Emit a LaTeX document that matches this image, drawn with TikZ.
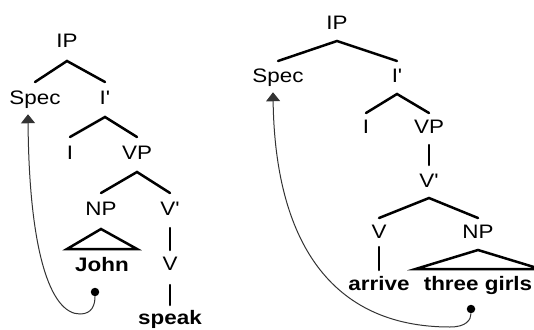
\documentclass[tikz,border=0pt]{standalone}
\usepackage{fontspec}
\newfontfamily\lab{Liberation Sans}[FakeStretch=1.15]
\usetikzlibrary{arrows.meta}
\begin{document}
\begin{tikzpicture}[x=1pt,y=-1pt,
  cat/.style={font=\lab\fontsize{19.5}{21}\selectfont,inner sep=0pt,anchor=base},
  word/.style={cat,font=\lab\fontsize{19.5}{21}\selectfont\bfseries},
  branch/.style={line width=2.5pt,line cap=round},
  move/.style={line width=1pt,black!80,-{Triangle[width=14pt,length=9pt]}},
  dotnode/.style={circle,fill=black,inner sep=0pt,minimum size=8.5pt}]
\useasboundingbox (0,0) rectangle (534,329);

% ---------- left tree: "John speak" ----------
\node[cat] (ipL)   at (67,47)   {IP};
\node[cat] (specL) at (35,104)  {Spec};
\node[cat] (ibarL) at (105,104) {I'};
\node[cat] (iL)    at (70,159)  {I};
\node[cat] (vpL)   at (137,159) {VP};
\node[cat] (npL)   at (101,215) {NP};
\node[cat] (vbarL) at (170,215) {V'};
\node[word] (johnL) at (102,271) {John};
\node[cat] (vL)    at (170,270) {V};
\node[word] (speakL) at (170,324) {speak};
\node[dotnode] (dotL) at (95,292) {};

\draw[branch] ([yshift=22pt]specL.base) -- ([yshift=-14pt]ipL.base) -- ([yshift=22pt]ibarL.base);
\draw[branch] ([yshift=22pt]iL.base) -- ([yshift=-13pt]ibarL.base) -- ([yshift=22pt]vpL.base);
\draw[branch] ([yshift=22pt]npL.base) -- ([yshift=-13pt]vpL.base) -- ([yshift=22pt]vbarL.base);
\draw[branch] ([yshift=-13pt]vbarL.base) -- ([yshift=20pt]vL.base);
\draw[branch] ([yshift=-15pt]vL.base) -- ([yshift=19pt]speakL.base);
\draw[branch,line join=miter] ([yshift=-14pt]npL.base)
  -- ([xshift=-8pt,yshift=22pt]johnL.base west)
  -- ([xshift=8pt,yshift=22pt]johnL.base east) -- cycle;

\draw[move] (dotL) .. controls (95,305) and (92,314) .. (80,314)
  .. controls (50,314) and (29,250) .. ([xshift=-7pt,yshift=-6pt]specL.south);

% ---------- right tree: "arrive three girls" ----------
\node[cat] (ipR)   at (337,30)  {IP};
\node[cat] (specR) at (278,82)  {Spec};
\node[cat] (ibarR) at (397,82)  {I'};
\node[cat] (iR)    at (366,133) {I};
\node[cat] (vpR)   at (429,133) {VP};
\node[cat] (vbarR) at (429,187) {V'};
\node[cat] (vR)    at (379,238) {V};
\node[cat] (npR)   at (478,238) {NP};
\node[word] (arriveR) at (379,290) {arrive};
\node[word] (girlsR)  at (478,290) {three girls};
\node[dotnode] (dotR) at (471,309) {};

\draw[branch] ([yshift=21pt]specR.base) -- ([yshift=-11pt]ipR.base) -- ([yshift=21pt]ibarR.base);
\draw[branch] ([yshift=20pt]iR.base) -- ([yshift=-12pt]ibarR.base) -- ([yshift=20pt]vpR.base);
\draw[branch] ([yshift=-12pt]vpR.base) -- ([yshift=22pt]vbarR.base);
\draw[branch] ([yshift=20pt]vR.base) -- ([yshift=-11pt]vbarR.base) -- ([yshift=20pt]npR.base);
\draw[branch] ([yshift=-9pt]vR.base) -- ([yshift=20pt]arriveR.base);
\draw[branch,line join=miter] ([yshift=-12pt]npR.base)
  -- ([xshift=-8pt,yshift=21pt]girlsR.base west)
  -- ([xshift=8pt,yshift=21pt]girlsR.base east) -- cycle;

\draw[move] (dotR) .. controls (471,320) and (466,327) .. (450,327)
  .. controls (330,327) and (275,240) .. ([xshift=-5pt,yshift=-6pt]specR.south);
\end{tikzpicture}
\end{document}
